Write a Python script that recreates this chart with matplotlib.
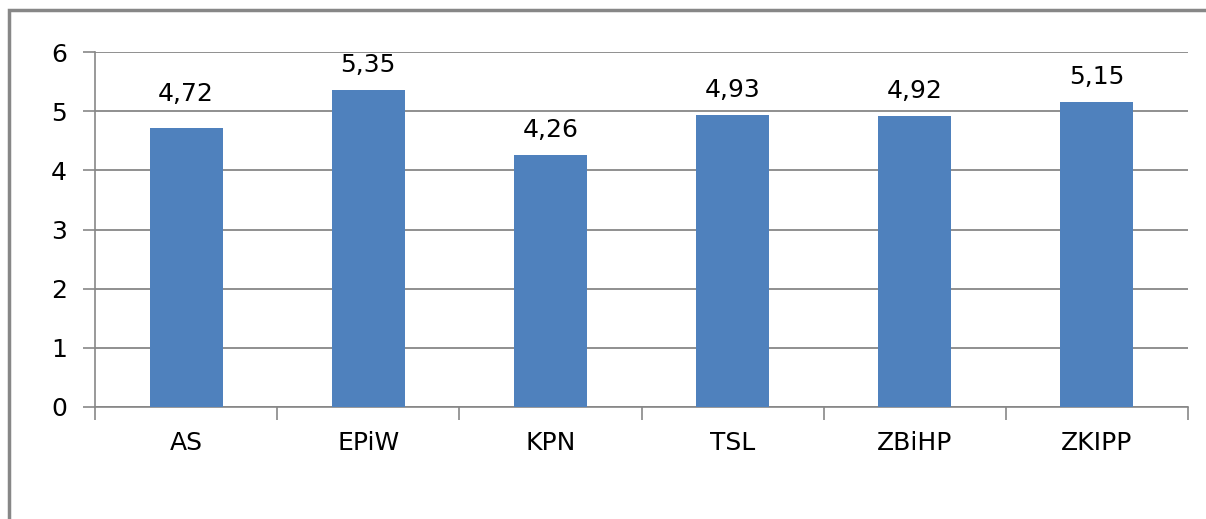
import matplotlib.pyplot as plt
from matplotlib.patches import Rectangle
from matplotlib.ticker import FixedLocator

# --- Data ---
categories = ["AS", "EPiW", "KPN", "TSL", "ZBiHP", "ZKIPP"]
values = [4.72, 5.35, 4.26, 4.93, 4.92, 5.15]
yticks = [0, 1, 2, 3, 4, 5, 6]

bar_color = "#4F81BD"
line_gray = "#878787"
fs = 18

fig = plt.figure(figsize=(12.06, 5.19), dpi=100)

# outer chart frame (runs off the right and bottom edges)
fig.patches.append(Rectangle((9 / 1206, -0.1), 1.2, 1.1 - 10 / 519,
                             transform=fig.transFigure, fill=False,
                             edgecolor=line_gray, linewidth=2.5))

ax = fig.add_axes([95 / 1206, 1 - 407 / 519, (1188 - 95) / 1206, (407 - 52) / 519])

x = list(range(len(categories)))
ax.bar(x, values, width=0.4, color=bar_color, zorder=3)

for i, (xi, v) in enumerate(zip(x, values)):
    # the first label sits a little higher in the original
    lift = 19 if i == 0 else 13
    ax.annotate(f"{v:.2f}".replace(".", ","), (xi, v), xytext=(0, lift),
                textcoords="offset points", ha="center", va="baseline",
                fontsize=fs)

ax.set_xlim(-0.5, len(categories) - 0.5)
ax.set_ylim(0, 6)
ax.set_yticks(yticks)
ax.set_yticklabels([str(t) for t in yticks], fontsize=fs)
ax.set_xticks(x)
ax.set_xticklabels(categories, fontsize=fs)
ax.xaxis.set_minor_locator(FixedLocator([i - 0.5 for i in range(len(categories) + 1)]))

ax.tick_params(axis="x", which="major", length=0, pad=17)
ax.tick_params(axis="x", which="minor", length=9, width=1.2, color=line_gray, direction="out")
ax.tick_params(axis="y", length=9, width=1.2, color=line_gray, pad=11)

ax.yaxis.grid(True, color=line_gray, linewidth=1.3, zorder=0)
ax.set_axisbelow(True)
for side in ["top", "right"]:
    ax.spines[side].set_visible(False)
for side in ["left", "bottom"]:
    ax.spines[side].set_color(line_gray)
    ax.spines[side].set_linewidth(1.2)

fig.savefig("out.png", dpi=100)
